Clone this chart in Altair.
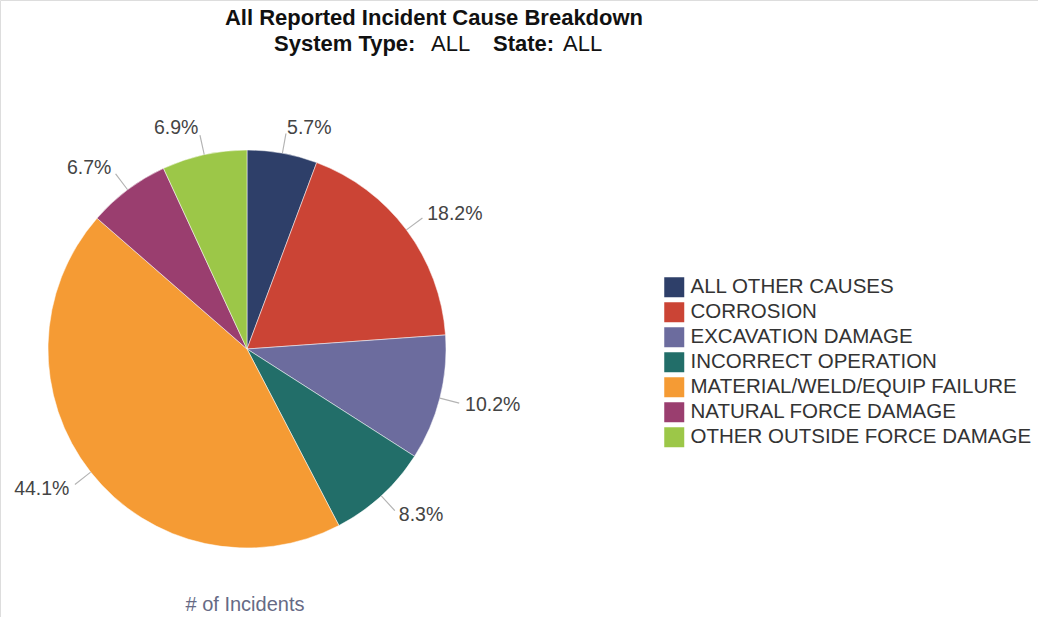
import altair as alt
import pandas as pd

causes = [
    "ALL OTHER CAUSES",
    "CORROSION",
    "EXCAVATION DAMAGE",
    "INCORRECT OPERATION",
    "MATERIAL/WELD/EQUIP FAILURE",
    "NATURAL FORCE DAMAGE",
    "OTHER OUTSIDE FORCE DAMAGE",
]
percents = [5.7, 18.2, 10.2, 8.3, 44.1, 6.7, 6.9]
colors = ["#2E3F69", "#CB4435", "#6C6C9E", "#226E69", "#F59B34", "#9A3E6F", "#9CC748"]

title_line1 = "All Reported Incident Cause Breakdown"
subtitle_parts = ["System Type:", "ALL", "State:", "ALL"]
subtitle_bold = [True, False, True, False]
subtitle_x = [274, 431, 493, 563]
axis_caption = "# of Incidents"

FONT = "Liberation Sans"
CX, CY, R = 247, 349, 199

df = pd.DataFrame({"cause": causes, "pct": percents, "order": list(range(len(causes)))})

base = (
    alt.Chart(df)
    .transform_joinaggregate(total="sum(pct)")
    .transform_window(cum="sum(pct)", sort=[alt.SortField("order")], frame=[None, 0])
    .transform_calculate(
        t0="2*PI*(datum.cum - datum.pct)/datum.total",
        t1="2*PI*datum.cum/datum.total",
        mid="(datum.t0 + datum.t1)/2",
        l0="datum.mid - 0.0028",
        l1="datum.mid + 0.0028",
        label="format(datum.pct, '.1f') + '%'",
    )
)

pos = dict(x=alt.value(CX), y=alt.value(CY))

pie = base.mark_arc(outerRadius=R, stroke="white", strokeWidth=0.5).encode(
    theta=alt.Theta("t0:Q", scale=None, stack=None),
    theta2="t1:Q",
    color=alt.Color(
        "cause:N",
        scale=alt.Scale(domain=causes, range=colors),
        sort=causes,
        legend=alt.Legend(
            title=None,
            orient="none",
            legendX=664,
            legendY=277,
            symbolType="square",
            symbolSize=400,
            symbolStrokeWidth=0,
            symbolOpacity=1,
            labelFont=FONT,
            labelFontSize=20.5,
            labelColor="#333333",
            labelOffset=6,
            rowPadding=4,
            labelLimit=500,
        ),
    ),
    **pos,
)

leaders = base.mark_arc(innerRadius=R, outerRadius=R + 20, color="#B4B4B4").encode(
    theta=alt.Theta("l0:Q", scale=None, stack=None),
    theta2="l1:Q",
    **pos,
)

labels_right = base.transform_filter("datum.mid < PI").mark_text(
    radius=R + 26, align="left", baseline="middle", font=FONT, fontSize=19.5, color="#444444"
).encode(theta=alt.Theta("mid:Q", scale=None, stack=None), text="label:N", **pos)

labels_left = base.transform_filter("datum.mid >= PI").mark_text(
    radius=R + 27, align="right", baseline="middle", font=FONT, fontSize=19.5, color="#444444"
).encode(theta=alt.Theta("mid:Q", scale=None, stack=None), text="label:N", **pos)

title1 = alt.Chart(pd.DataFrame({"t": [title_line1]})).mark_text(
    font=FONT, fontSize=22, fontWeight="bold", color="#111111", align="center", baseline="middle"
).encode(text="t:N", x=alt.value(434), y=alt.value(18))

sub_df = pd.DataFrame({"t": subtitle_parts, "b": subtitle_bold, "px": subtitle_x})
sub_bold = alt.Chart(sub_df).transform_filter("datum.b").mark_text(
    font=FONT, fontSize=22, fontWeight="bold", color="#111111", align="left", baseline="middle"
).encode(text="t:N", x=alt.X("px:Q", scale=None), y=alt.value(44))
sub_norm = alt.Chart(sub_df).transform_filter("!datum.b").mark_text(
    font=FONT, fontSize=22, color="#111111", align="left", baseline="middle"
).encode(text="t:N", x=alt.X("px:Q", scale=None), y=alt.value(44))

caption = alt.Chart(pd.DataFrame({"t": [axis_caption]})).mark_text(
    font=FONT, fontSize=20, color="#666A85", align="center", baseline="middle"
).encode(text="t:N", x=alt.value(245), y=alt.value(605))

chart = (
    alt.layer(pie, leaders, labels_right, labels_left, title1, sub_bold, sub_norm, caption)
    .properties(width=1038, height=617, autosize=alt.AutoSizeParams(type="none"), padding=0)
    .configure_view(stroke=None)
    .configure(background="white")
)

chart.save("out.html", embed_options={"renderer": "svg", "actions": False})
